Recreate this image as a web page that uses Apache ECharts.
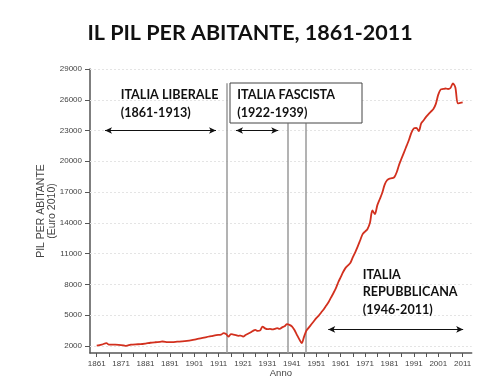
<!DOCTYPE html>
<html>
<head>
<meta charset="utf-8">
<script src="https://cdn.jsdelivr.net/npm/echarts@6/dist/echarts.min.js"></script>
<style>html,body{margin:0;padding:0;background:#fff;}#c{width:500px;height:388px;}</style>
</head>
<body>
<div id="c"></div>
<script>
const years = [1861,1863,1865,1866,1868,1870,1872,1873,1875,1877,1879,1881,1883,1885,1887,1888,1890,1892,1894,1896,1898,1900,1902,1904,1906,1908,1910,1912,1913,1914,1915,1916,1917,1918,1919,1920,1921,1922,1924,1925,1926,1927,1928,1929,1930,1931,1932,1933,1934,1935,1936,1937,1938,1939,1940,1941,1942,1943,1944,1945,1946,1947,1948,1949,1950,1951,1952,1953,1954,1955,1956,1957,1958,1959,1960,1961,1962,1963,1964,1965,1966,1967,1968,1969,1970,1971,1972,1973,1974,1975,1976,1977,1978,1979,1980,1981,1982,1983,1984,1985,1986,1987,1988,1989,1990,1991,1992,1993,1994,1995,1996,1997,1998,1999,2000,2001,2002,2003,2004,2005,2006,2007,2008,2009,2010,2011];
const gdpPerCapita = [2030,2120,2260,2120,2110,2100,2050,2000,2110,2150,2160,2220,2300,2350,2390,2420,2370,2360,2400,2430,2480,2560,2660,2750,2860,2950,3040,3100,3240,3150,2900,3140,3100,3050,2980,3000,2900,3050,3300,3450,3560,3450,3500,3880,3700,3620,3650,3600,3660,3720,3650,3800,3900,4110,4050,3900,3560,3100,2650,2260,2900,3500,3800,4100,4400,4700,4950,5250,5550,5900,6250,6700,7130,7600,8200,8700,9200,9600,9850,10100,10650,11150,11700,12300,12900,13150,13400,14000,15200,14850,15700,16300,16900,17700,18150,18300,18350,18450,18950,19700,20300,20900,21500,22100,22800,23200,23250,22950,23700,24000,24330,24600,24850,25100,25600,26500,27000,27050,27100,27050,27150,27600,27200,25650,25700,25750];
const xTickLabels = [1861,1871,1881,1891,1901,1911,1921,1931,1941,1951,1961,1971,1981,1991,2001,2011];
const xMinorTicks = [1861,1866,1871,1876,1881,1886,1891,1896,1901,1906,1911,1916,1921,1926,1931,1936,1941,1946,1951,1956,1961,1966,1971,1976,1981,1986,1991,1996,2001,2006,2011];
const yTickLabels = [2000,5000,8000,11000,14000,17000,20000,23000,26000,29000];
const periodLines = [1914.5, 1939.2, 1946.6];
const periodLineTops = [27600, 23700, 23700];
const arrows = [[1864.4, 1909.9, 23000],[1918.1, 1935.4, 23000],[1955.9, 2011.2, 3600]];

const chart = echarts.init(document.getElementById('c'), null, {renderer:'canvas'});
const labelFont = {fontFamily:'Liberation Sans', fontSize:8, color:'#444'};
const boldFont = 'Lato';

const gridMarks = yTickLabels.map(v => ({yAxis:v}));
const vLines = periodLines.map((x,i) => [{coord:[x, periodLineTops[i]]},{coord:[x, 1300]}]);
const arrowLines = arrows.map(a => [{coord:[a[0], a[2]]},{coord:[a[1], a[2]]}]);

chart.setOption({
  animation:false,
  backgroundColor:'#fff',
  title:{
    text:'IL PIL PER ABITANTE, 1861-2011',
    left:'center', top:17,
    textStyle:{fontFamily:boldFont, fontWeight:'bold', fontSize:21.5, color:'#111'}
  },
  grid:{left:90, right:28.3, top:69, bottom:35},
  xAxis:{
    type:'value', min:1858.25, max:2014.7,
    name:'Anno', nameLocation:'middle', nameGap:15, nameMoveOverlap:false,
    nameTextStyle:{fontFamily:'Liberation Sans', fontSize:9.5, color:'#444'},
    axisLine:{show:true, lineStyle:{color:'#555', width:1.5}},
    axisTick:{show:true, length:4, lineStyle:{color:'#555'}, customValues:xMinorTicks},
    axisLabel:Object.assign({margin:7, customValues:xTickLabels, formatter:v=>String(v)}, labelFont),
    splitLine:{show:false}
  },
  yAxis:{
    type:'value', min:1300, max:29000,
    name:'PIL PER ABITANTE\n(Euro 2010)', nameLocation:'middle', nameGap:32, nameRotate:90, nameMoveOverlap:false,
    nameTextStyle:{fontFamily:'Liberation Sans', fontSize:10.5, color:'#444', lineHeight:11},
    axisLine:{show:true, lineStyle:{color:'#555', width:1.5}},
    axisTick:{show:true, length:5, lineStyle:{color:'#555'}, customValues:yTickLabels},
    axisLabel:Object.assign({margin:8, customValues:yTickLabels, formatter:v=>String(v)}, labelFont),
    splitLine:{show:false}
  },
  series:[
    {
      type:'line', data:[], silent:true,
      markLine:{silent:true, symbol:['none','none'], label:{show:false},
        lineStyle:{color:'#e4e4e4', type:[2,2], width:1}, data:gridMarks}
    },
    {
      type:'line', data:[], silent:true,
      markLine:{silent:true, symbol:['none','none'], label:{show:false},
        lineStyle:{color:'#9a9a9a', type:'solid', width:1.5}, data:vLines}
    },
    {
      type:'line', data:[], silent:true,
      markLine:{silent:true, symbol:['arrow','arrow'], symbolSize:[5,7], label:{show:false},
        lineStyle:{color:'#111', type:'solid', width:1}, data:arrowLines}
    },
    {
      type:'line', data:years.map((y,i)=>[y, gdpPerCapita[i]]),
      showSymbol:false, smooth:0.3,
      lineStyle:{color:'#d2301e', width:1.8}, z:5
    }
  ],
  graphic:[
    {type:'rect', shape:{x:230, y:83, width:132, height:40}, style:{fill:'#fff', stroke:'#444', lineWidth:1}, z:10},
    {type:'text', x:120.7, y:95, style:{text:'ITALIA LIBERALE', font:'bold 12.6px Lato', fill:'#111', textVerticalAlign:'middle'}, z:11},
    {type:'text', x:120.7, y:113, style:{text:'(1861-1913)', font:'bold 12.6px Lato', fill:'#111', textVerticalAlign:'middle'}, z:11},
    {type:'text', x:237.3, y:95, style:{text:'ITALIA FASCISTA', font:'bold 12.6px Lato', fill:'#111', textVerticalAlign:'middle'}, z:11},
    {type:'text', x:237.3, y:113, style:{text:'(1922-1939)', font:'bold 12.6px Lato', fill:'#111', textVerticalAlign:'middle'}, z:11},
    {type:'text', x:362.7, y:275, style:{text:'ITALIA', font:'bold 12.6px Lato', fill:'#111', textVerticalAlign:'middle'}, z:11},
    {type:'text', x:362.7, y:292, style:{text:'REPUBBLICANA', font:'bold 12.6px Lato', fill:'#111', textVerticalAlign:'middle'}, z:11},
    {type:'text', x:362.7, y:309.5, style:{text:'(1946-2011)', font:'bold 12.6px Lato', fill:'#111', textVerticalAlign:'middle'}, z:11}
  ]
});
</script>
</body>
</html>
